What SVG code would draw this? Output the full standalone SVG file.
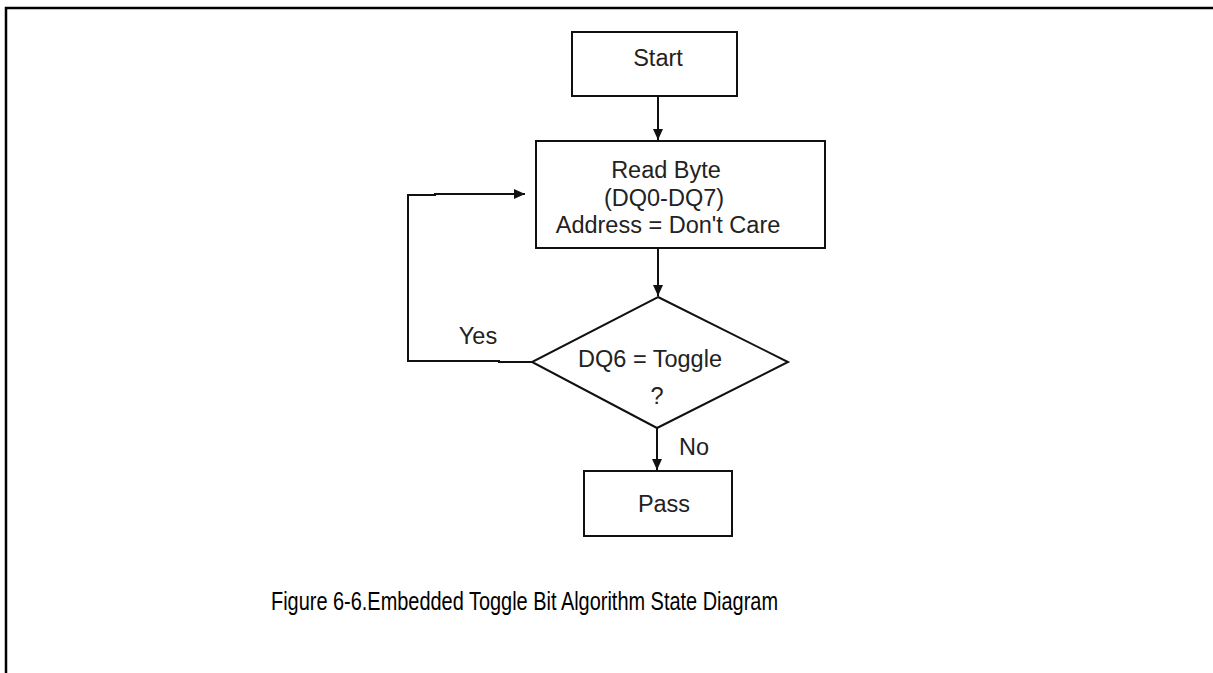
<svg xmlns="http://www.w3.org/2000/svg" width="1213" height="673" viewBox="0 0 1213 673">
<style>
.box{fill:#fff;stroke:#111;stroke-width:2}
.ln{fill:none;stroke:#111;stroke-width:2}
.t{font-family:"Liberation Sans",Arial,sans-serif;font-size:23.5px;fill:#222;text-anchor:middle}
.cap{font-family:"Liberation Sans",Arial,sans-serif;font-size:26px;fill:#000}
</style>
<defs>
<marker id="ah" markerWidth="12" markerHeight="12" refX="11" refY="6" orient="auto" markerUnits="userSpaceOnUse">
<path d="M0,1 L11,6 L0,11 Z" fill="#111"/>
</marker>
</defs>
<rect width="1213" height="673" fill="#fff"/>
<g id="frame">
<path d="M6,673 V8 H1213" fill="none" stroke="#000" stroke-width="2.5"/>
</g>
<g id="connectors">
<path class="ln" d="M658,96 V140" marker-end="url(#ah)"/>
<path class="ln" d="M658,248 V296" marker-end="url(#ah)"/>
<path class="ln" d="M657,428 V470" marker-end="url(#ah)"/>
<path class="ln" d="M532,362 H499 V361 H408 V195 H435 V194 H525" marker-end="url(#ah)"/>
<text class="t" x="478" y="344">Yes</text>
<text class="t" x="694" y="455">No</text>
</g>
<g id="start">
<rect class="box" x="572" y="32" width="165" height="64"/>
<text class="t" x="658" y="66">Start</text>
</g>
<g id="readbyte">
<rect class="box" x="536" y="141" width="289" height="107"/>
<text class="t" x="666" y="178">Read Byte</text>
<text class="t" x="664" y="206">(DQ0-DQ7)</text>
<text class="t" x="668" y="233">Address = Don't Care</text>
</g>
<g id="decision">
<polygon class="box" points="658,297 788,362 657,428 532,362"/>
<text class="t" x="650" y="367">DQ6 = Toggle</text>
<text class="t" x="657" y="404">?</text>
</g>
<g id="pass">
<rect class="box" x="584" y="471" width="148" height="65"/>
<text class="t" x="664" y="512">Pass</text>
</g>
<g id="caption">
<text class="cap" x="271" y="610" textLength="507" lengthAdjust="spacingAndGlyphs">Figure 6-6.Embedded Toggle Bit Algorithm State Diagram</text>
</g>
</svg>
